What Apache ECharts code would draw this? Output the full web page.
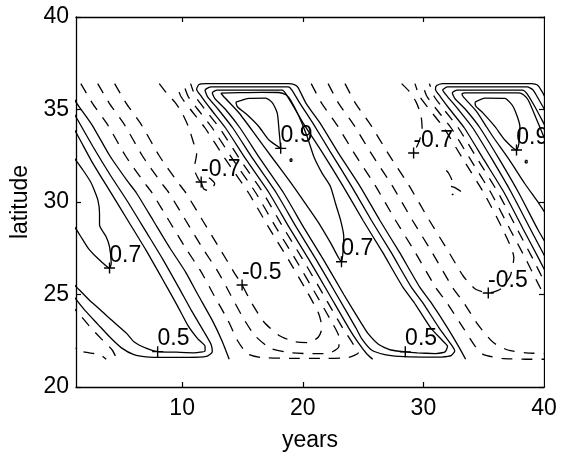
<!DOCTYPE html>
<html>
<head>
<meta charset="utf-8">
<script src="https://cdn.jsdelivr.net/npm/echarts@6/dist/echarts.min.js"></script>
<style>
html,body{margin:0;padding:0;background:#fff;}
#chart{width:561px;height:457px;}
</style>
</head>
<body>
<div id="chart"></div>
<script>
// Axis ranges and ticks
const xRange = [1.2, 40];
const yRange = [20, 40];
const xTickValues = [10, 20, 30, 40];
const xInnerTicks = [10, 20, 30];
const yTickValues = [20, 25, 30, 35, 40];

// Positive contours (solid), [year, latitude]
// first band (left, cut by the left axis)
const b1_p01 = [[0.6,36.1],[1.25,35.35],[2.5,34.2],[4.0,32.5],[5.5,31.1],[6.2,30.5],[7.6,29.0],[9.0,27.5],[10.3,26.2],[11.3,25.0],[12.5,23.6],[13.3,22.5],[13.9,21.5]];
const b1_p03 = [[0.5,35.4],[1.25,34.54],[2.6,33.0],[4.0,31.5],[5.5,30.0],[7.0,28.4],[8.4,26.9],[9.7,25.4],[10.8,24.1],[11.8,23.0],[12.4,22.3],[12.5,21.9],[12.0,21.65],[10.5,21.6],[8.5,21.6],[7.0,21.63],[6.0,21.75],[5.0,22.1],[4.0,22.7],[3.0,23.4],[2.0,24.1],[1.25,24.7],[0.5,25.3]];
const b1_p05 = [[0.5,34.5],[1.25,33.7],[2.5,32.2],[4.0,30.6],[5.5,29.0],[7.0,27.4],[8.4,25.8],[9.6,24.4],[10.5,23.3],[11.3,22.6],[11.9,22.2],[11.9,21.95],[11.0,21.85],[9.5,21.88],[7.97,21.91],[7.0,22.1],[6.0,22.45],[5.4,22.9],[4.0,23.7],[3.0,24.3],[2.3,24.7],[1.25,25.4],[0.5,25.9]];
const b1_p07 = [[0.8,32.6],[1.25,32.2],[1.77,31.73],[2.32,31.19],[2.6,30.83],[3.01,30.11],[3.15,29.39],[3.15,28.76],[3.7,28.12],[3.98,27.58],[4.12,26.69],[3.98,26.43],[3.15,26.86],[2.32,27.41],[1.77,27.95],[1.25,28.49],[0.8,28.9]];

// second band (middle)
const b2_p01 = [[25.8,21.5],[25.3,21.8],[24.6,22.4],[23.8,23.2],[22.2,25.0],[20.5,26.9],[18.9,28.6],[17.2,30.5],[15.3,32.3],[13.6,34.0],[12.4,35.0],[11.6,35.7],[11.2,36.1],[11.4,36.35],[12.0,36.4],[18.8,36.4],[19.3,36.35],[19.6,36.2],[20.3,35.3],[21.5,34.2],[23.0,32.6],[24.7,30.9],[26.4,29.0],[28.0,27.3],[29.7,25.4],[30.6,24.6],[32.0,23.2],[33.0,22.1],[33.5,21.5]];
const b2_p03 = [[31.5,21.62],[32.3,21.7],[32.6,21.95],[32.3,22.3],[31.3,23.2],[29.9,24.6],[29.0,25.4],[27.3,27.3],[25.7,29.0],[24.0,30.9],[22.3,32.7],[20.8,34.3],[19.7,35.4],[19.1,36.05],[18.8,36.22],[12.4,36.22],[11.9,36.05],[12.1,35.7],[13.0,35.0],[14.2,34.0],[15.9,32.3],[17.8,30.5],[19.5,28.6],[21.1,26.9],[22.8,25.0],[24.4,23.2],[24.9,22.6],[25.7,22.0],[26.8,21.75],[28.0,21.65],[30.0,21.62],[31.5,21.62]];
const b2_p05 = [[31.0,21.8],[31.8,21.9],[32.0,22.2],[31.6,22.5],[30.6,23.2],[29.2,24.6],[28.3,25.4],[26.6,27.3],[25.0,29.0],[23.3,30.9],[21.6,32.7],[20.1,34.2],[19.2,35.2],[18.6,35.85],[18.3,36.05],[12.9,36.05],[12.5,35.9],[12.7,35.6],[13.6,35.0],[14.8,34.0],[16.5,32.3],[18.4,30.5],[20.1,28.6],[21.7,26.9],[23.4,25.0],[24.9,23.4],[25.4,22.9],[26.3,22.3],[27.3,22.0],[28.5,21.9],[29.5,21.85],[31.0,21.8]];
const b2_p07 = [[13.21,35.88],[14.72,35.91],[16.65,35.93],[18.0,35.92],[18.6,35.8],[19.0,35.5],[19.7,34.61],[20.37,33.53],[20.92,32.45],[21.61,31.55],[22.3,30.83],[22.71,29.93],[23.13,29.03],[23.4,28.12],[23.35,27.4],[23.21,26.77],[22.32,27.78],[21.33,28.86],[20.18,29.95],[19.02,31.03],[17.61,32.27],[16.21,33.51],[14.72,34.81],[13.56,35.62],[13.21,35.88]];
const b2_p09 = [[14.45,35.4],[15.55,35.6],[16.93,35.62],[17.5,35.35],[17.89,34.79],[18.03,33.89],[18.17,32.9],[17.2,33.35],[16.37,34.07],[15.41,34.7],[14.58,35.15],[14.45,35.4]];
const b2_p09dot = [[18.95,32.33],[19.1,32.33],[19.1,32.2],[18.95,32.2],[18.95,32.33]];

// third band (right, cut by the right axis)
const b3_p01 = [[41.0,35.0],[40.4,35.3],[39.9,35.9],[39.5,36.3],[39.0,36.4],[31.6,36.4],[31.1,36.3],[31.0,36.1],[31.4,35.7],[32.2,35.0],[33.4,34.0],[35.0,32.3],[36.7,30.5],[38.3,28.5],[39.6,26.9],[40.6,25.6]];
const b3_p03 = [[41.0,34.0],[40.5,34.5],[39.6,35.5],[39.1,36.05],[38.6,36.22],[32.0,36.22],[31.6,36.05],[32.0,35.7],[32.9,35.0],[34.1,34.0],[35.7,32.3],[37.3,30.5],[38.9,28.5],[40.2,26.9],[41.0,26.0]];
const b3_p05 = [[41.0,33.0],[40.1,34.1],[39.2,35.2],[38.6,35.85],[38.2,36.05],[32.8,36.05],[32.4,35.9],[32.6,35.6],[33.5,35.0],[34.7,34.0],[36.3,32.3],[37.9,30.5],[39.5,28.5],[40.3,27.6]];
const b3_p07 = [[40.5,32.7],[40.0,33.5],[39.3,34.6],[38.7,35.5],[38.3,35.8],[37.9,35.9],[33.5,35.9],[33.2,35.85],[33.3,35.7],[34.4,34.9],[35.1,34.2],[35.8,33.5],[37.1,32.3],[38.4,31.0],[39.6,29.9],[40.3,29.2]];
const b3_p09 = [[34.28,35.4],[35.11,35.62],[36.76,35.6],[37.45,35.15],[38.0,34.07],[37.92,33.17],[37.72,32.81],[36.76,33.35],[35.94,34.07],[34.97,34.79],[34.33,35.2],[34.28,35.4]];
const b3_p09dot = [[38.45,32.25],[38.6,32.25],[38.6,32.12],[38.45,32.12],[38.45,32.25]];

// Negative contours (dashed)
// trough between the first and second band
const nA_01 = [[1.6,36.4],[2.55,35.35],[3.8,34.2],[5.3,32.5],[6.8,31.1],[7.5,30.5],[8.9,29.0],[10.3,27.5],[11.6,26.2],[12.6,25.0],[13.8,23.6],[14.6,22.5],[15.4,21.8],[16.5,21.6],[19.0,21.55],[22.0,21.55],[23.8,21.6],[24.6,21.85],[24.1,22.4],[23.3,23.2],[21.7,25.0],[20.0,26.9],[18.4,28.6],[16.7,30.5],[14.8,32.3],[13.1,34.0],[11.9,35.0],[11.1,35.7],[10.7,36.4]];
const nA_03 = [[3.0,36.4],[3.95,35.35],[5.2,34.2],[6.7,32.5],[8.2,31.1],[8.9,30.5],[10.3,29.0],[11.7,27.5],[13.0,26.2],[14.0,25.0],[15.0,23.8],[16.0,22.8],[17.3,22.1],[19.0,21.85],[21.0,21.8],[22.3,21.85],[23.0,22.2],[23.0,22.7],[22.5,23.4],[21.1,25.0],[19.4,26.9],[17.8,28.6],[16.1,30.5],[14.2,32.3],[12.5,34.0],[11.3,35.0],[10.5,35.7],[10.1,36.4]];
const nA_05 = [[4.4,36.4],[5.35,35.35],[6.6,34.2],[8.1,32.5],[9.6,31.1],[10.3,30.5],[11.7,29.0],[13.1,27.5],[14.3,26.2],[14.97,25.51],[15.8,24.5],[16.8,23.5],[18.0,22.8],[19.3,22.45],[20.5,22.4],[21.3,22.7],[21.6,23.2],[21.3,24.0],[20.4,25.1],[18.8,26.9],[17.2,28.6],[15.5,30.5],[13.6,32.3],[11.9,34.0],[10.7,35.0],[9.9,35.7],[9.5,36.4]];
const nA_07 = [[8.1,36.4],[8.7,35.9],[9.4,35.4],[10.0,34.8],[10.5,34.1],[10.9,33.3],[11.2,32.6],[11.0,31.8],[11.3,31.3],[11.58,31.08],[12.2,31.3],[12.7,31.0],[12.3,30.6],[11.8,30.7],[11.58,31.08]];

// trough between the second and third band
const nB_01 = [[20.7,36.4],[21.6,35.3],[22.8,34.2],[24.3,32.6],[26.0,30.9],[27.7,29.0],[29.3,27.3],[31.0,25.4],[31.9,24.6],[33.3,23.2],[34.3,22.2],[35.0,21.75],[36.5,21.55],[38.5,21.5],[40.5,21.5],[41.5,22.5],[41.0,24.5],[40.1,25.6],[39.1,26.9],[37.8,28.5],[36.2,30.5],[34.5,32.3],[32.9,34.0],[31.7,35.0],[30.9,35.7],[30.5,36.4]];
const nB_03 = [[22.1,36.4],[23.0,35.3],[24.2,34.2],[25.7,32.6],[27.4,30.9],[29.1,29.0],[30.7,27.3],[32.4,25.4],[33.3,24.6],[34.6,23.3],[35.8,22.4],[37.0,22.0],[38.5,21.85],[40.5,21.8],[41.5,23.0],[40.3,24.6],[39.5,25.6],[38.5,26.9],[37.2,28.5],[35.6,30.5],[33.9,32.3],[32.3,34.0],[31.1,35.0],[30.3,35.7],[29.9,36.4]];
const nB_05 = [[23.5,36.4],[24.4,35.3],[25.6,34.2],[27.1,32.6],[28.8,30.9],[30.5,29.0],[32.1,27.3],[33.3,26.0],[34.3,25.3],[35.38,25.08],[36.4,25.3],[37.2,26.0],[37.5,27.0],[36.6,28.5],[35.0,30.5],[33.3,32.3],[31.7,34.0],[30.5,35.0],[29.7,35.7],[29.3,36.4]];
const nB_07 = [[28.2,36.4],[28.8,36.0],[29.4,35.4],[29.8,34.7],[29.9,33.9],[29.6,33.2],[29.19,32.65]];
const nB_07b = [[31.9,31.7],[32.08,31.57],[32.35,31.19],[32.08,30.92],[32.65,30.76],[33.15,30.54],[32.35,30.4]];

// lower-left corner, below the first band
const nZ_01 = [[0.5,24.5],[1.25,24.1],[2.3,23.3],[3.3,22.6],[4.2,22.0],[4.6,21.5]];
const nZ_03 = [[0.5,22.5],[1.25,22.0],[2.3,21.85],[3.2,21.75],[3.7,21.5]];

// Contour labels: [year, latitude, text]
const contourLabels = [
  [3.98, 26.43, '0.7'],
  [7.97, 21.91, '0.5'],
  [11.58, 31.08, '-0.7'],
  [18.17, 32.9, '0.9'],
  [14.97, 25.51, '-0.5'],
  [23.21, 26.77, '0.7'],
  [28.5, 21.9, '0.5'],
  [29.19, 32.65, '-0.7'],
  [35.38, 25.08, '-0.5'],
  [37.72, 32.81, '0.9']
];

const solidContours = [b1_p01, b1_p03, b1_p05, b1_p07, b2_p01, b2_p03, b2_p05, b2_p07, b2_p09, b2_p09dot,
  b3_p01, b3_p03, b3_p05, b3_p07, b3_p09, b3_p09dot];
const dashedContours = [nA_01, nA_03, nA_05, nA_07, nB_01, nB_03, nB_05, nB_07, nB_07b, nZ_01, nZ_03];

const FONT = '"Liberation Sans", Arial, Helvetica, sans-serif';
const INK = '#000';

function contourSeries(data, dashed) {
  return {
    type: 'line',
    data: data,
    showSymbol: false,
    smooth: 0.2,
    clip: true,
    silent: true,
    animation: false,
    lineStyle: { color: INK, width: 1.3, type: dashed ? [11, 9] : 'solid' }
  };
}

const series = [];
solidContours.forEach(d => series.push(contourSeries(d, false)));
dashedContours.forEach(d => series.push(contourSeries(d, true)));

// "+" markers with the contour value written next to them
series.push({
  type: 'scatter',
  data: contourLabels.map(p => ({ value: [p[0], p[1]], text: p[2] })),
  symbol: 'path://M0,5L10,5M5,0L5,10',
  symbolSize: 11,
  symbolKeepAspect: true,
  itemStyle: { color: INK, borderColor: INK, borderWidth: 1.4, opacity: 1 },
  label: {
    show: true,
    formatter: p => p.data.text,
    position: [6, -18],
    align: 'left',
    verticalAlign: 'top',
    color: INK,
    opacity: 1,
    textBorderWidth: 0,
    textShadowBlur: 0,
    fontFamily: FONT,
    fontSize: 23
  },
  emphasis: { disabled: true },
  silent: true,
  animation: false,
  z: 5
});

const axisLine = { show: true, onZero: false, lineStyle: { color: INK, width: 1.3 } };
const tickStyle = { color: INK, width: 1.2 };

const chart = echarts.init(document.getElementById('chart'), null, { renderer: 'canvas' });
chart.setOption({
  backgroundColor: '#fff',
  animation: false,
  grid: { left: 76, right: 17, top: 17, bottom: 69.5, containLabel: false },
  xAxis: [
    {
      type: 'value', min: xRange[0], max: xRange[1], position: 'bottom',
      axisLine: axisLine,
      axisTick: { show: true, inside: true, length: 5, customValues: xInnerTicks, lineStyle: tickStyle },
      axisLabel: { show: true, customValues: xTickValues, color: INK, fontFamily: FONT, fontSize: 23, margin: 10 },
      splitLine: { show: false },
      name: 'years', nameLocation: 'middle', nameGap: 42,
      nameTextStyle: { color: INK, fontFamily: FONT, fontSize: 23 }
    },
    {
      type: 'value', min: xRange[0], max: xRange[1], position: 'top',
      axisLine: axisLine,
      axisTick: { show: true, inside: true, length: 5, customValues: xInnerTicks, lineStyle: tickStyle },
      axisLabel: { show: false },
      splitLine: { show: false }
    }
  ],
  yAxis: [
    {
      type: 'value', min: yRange[0], max: yRange[1], interval: 5, position: 'left',
      axisLine: axisLine,
      axisTick: { show: true, inside: true, length: 5, lineStyle: tickStyle },
      axisLabel: { show: true, customValues: yTickValues, color: INK, fontFamily: FONT, fontSize: 23, margin: 7 },
      splitLine: { show: false },
      name: 'latitude', nameLocation: 'middle', nameGap: 41,
      nameTextStyle: { color: INK, fontFamily: FONT, fontSize: 23 }
    },
    {
      type: 'value', min: yRange[0], max: yRange[1], interval: 5, position: 'right',
      axisLine: axisLine,
      axisTick: { show: true, inside: true, length: 5, lineStyle: tickStyle },
      axisLabel: { show: false },
      splitLine: { show: false }
    }
  ],
  series: series
});

// Hide label text that runs past the right edge of the plot box
const rightPx = chart.convertToPixel({ xAxisIndex: 0 }, xRange[1]);
const topPx = chart.convertToPixel({ yAxisIndex: 0 }, yRange[1]);
const bottomPx = chart.convertToPixel({ yAxisIndex: 0 }, yRange[0]);
chart.setOption({
  graphic: [{
    type: 'rect', silent: true, z: 100,
    shape: { x: rightPx + 1, y: topPx + 1, width: 561 - rightPx, height: bottomPx - topPx - 2 },
    style: { fill: '#fff' }
  }]
});
</script>
</body>
</html>
